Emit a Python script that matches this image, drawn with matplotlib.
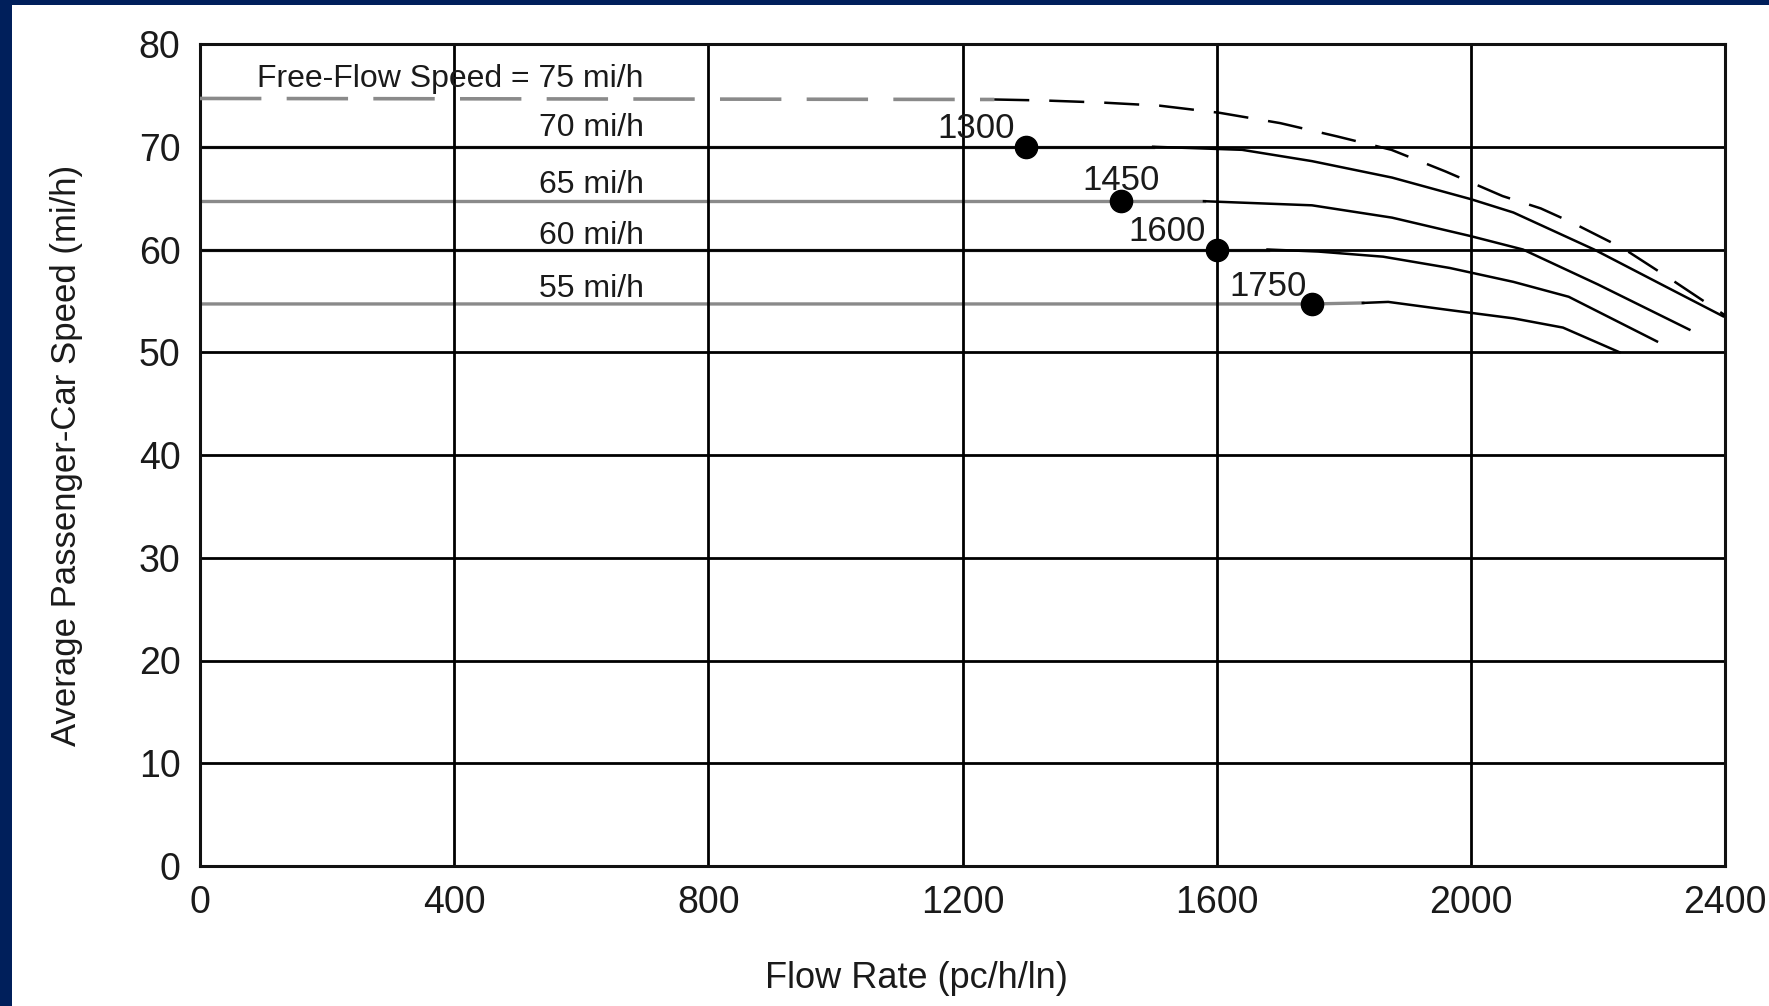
import matplotlib
matplotlib.use('Agg')
import matplotlib.pyplot as plt
from matplotlib.patches import Rectangle
import numpy as np

plt.rcParams['font.family'] = ['Liberation Sans Narrow', 'Liberation Sans', 'DejaVu Sans']

# speed-flow curves (flow pc/h/ln, speed mi/h)
ffs75_flow = [0, 1250, 1330, 1420, 1510, 1605, 1700, 1790, 1875, 1960, 2050, 2110, 2160, 2240, 2315, 2400]
ffs75_speed = [74.7, 74.6, 74.5, 74.3, 74.0, 73.3, 72.3, 71.0, 69.7, 67.6, 65.2, 64.0, 62.6, 60.1, 57.1, 53.6]

ffs70_flow = [0, 1300, 1500, 1640, 1750, 1876, 2000, 2067, 2194, 2300, 2397]
ffs70_speed = [70, 70, 70, 69.7, 68.6, 67.0, 64.9, 63.6, 60.0, 56.6, 53.5]

ffs65_flow = [0, 1450, 1580, 1750, 1876, 2000, 2082, 2200, 2344]
ffs65_speed = [64.7, 64.7, 64.7, 64.3, 63.1, 61.3, 60.0, 56.6, 52.2]

ffs60_flow = [0, 1600, 1680, 1760, 1862, 1967, 2067, 2154, 2293]
ffs60_speed = [60, 60, 60, 59.8, 59.3, 58.2, 56.85, 55.4, 51.05]

ffs55_flow = [0, 1750, 1830, 1870, 1967, 2067, 2145, 2234]
ffs55_speed = [54.7, 54.7, 54.8, 54.9, 54.1, 53.3, 52.4, 50.0]

# breakpoints
bp_flow = [1300, 1450, 1600, 1750]
bp_speed = [70, 64.7, 60, 54.7]
bp_labels = ['1300', '1450', '1600', '1750']

curve_labels = ['Free-Flow Speed = 75 mi/h', '70 mi/h', '65 mi/h', '60 mi/h', '55 mi/h']
curve_label_speed = [75.8, 71.0, 65.5, 60.5, 55.4]

x_ticks = [0, 400, 800, 1200, 1600, 2000, 2400]
y_ticks = [0, 10, 20, 30, 40, 50, 60, 70, 80]

TXT = '#1a1a1a'
GREY = '#8a8a8a'

fig = plt.figure(figsize=(17.69, 10.06), dpi=100)
fig.patch.set_facecolor('white')
# navy frame strips on left and top
fig.patches.append(Rectangle((0, 0), 12 / 1769, 1, transform=fig.transFigure,
                             facecolor='#001f5b', edgecolor='none', zorder=0))
fig.patches.append(Rectangle((0, 1 - 5 / 1006), 1, 5 / 1006, transform=fig.transFigure,
                             facecolor='#001f5b', edgecolor='none', zorder=0))

ax = fig.add_axes([200 / 1769, 1 - 866 / 1006, 1525 / 1769, 822 / 1006])
ax.set_xlim(0, 2400)
ax.set_ylim(0, 80)
ax.set_xticks(x_ticks)
ax.set_yticks(y_ticks)
ax.tick_params(length=0, labelsize=27, colors=TXT)
ax.tick_params(axis='x', pad=14)
ax.tick_params(axis='y', pad=14)
ax.grid(True, color='black', linewidth=2.0)
ax.set_axisbelow(True)
for s in ax.spines.values():
    s.set_linewidth(2.2)
    s.set_color('#111111')

# free-flow 75 dashed curve: flat part grey, falling part black
f = np.array(ffs75_flow)
v = np.array(ffs75_speed)
m = f <= 1250
ax.plot(f[m], v[m], color=GREY, lw=2.6, dashes=(17, 7), zorder=3)
ax.plot(f[f >= 1250], v[f >= 1250], color='black', lw=1.8, dashes=(14, 8), zorder=3)

# other curves: grey flat part (under the grid), black curved part
curves = [(ffs70_flow, ffs70_speed, 1500),
          (ffs65_flow, ffs65_speed, 1580),
          (ffs60_flow, ffs60_speed, 1680),
          (ffs55_flow, ffs55_speed, 1830)]
for cf, cs, split in curves:
    cf = np.array(cf)
    cs = np.array(cs)
    ax.plot(cf[cf <= split], cs[cf <= split], color=GREY, lw=2.4, zorder=0.3)
    ax.plot(cf[cf >= split], cs[cf >= split], color='black', lw=1.8, zorder=3)

ax.plot(bp_flow, bp_speed, 'o', color='black', markersize=16, zorder=5)
offsets = [(-8, 6), (0, 8), (-8, 6), (-4, 6)]
has = ['right', 'center', 'right', 'right']
for x, y, lab, off, ha in zip(bp_flow, bp_speed, bp_labels, offsets, has):
    ax.annotate(lab, (x, y), xytext=off, textcoords='offset points',
                ha=ha, va='baseline', fontsize=25, color=TXT, zorder=6)

for lab, y in zip(curve_labels, curve_label_speed):
    ax.text(698, y, lab, ha='right', va='baseline', fontsize=23, color=TXT, zorder=6)

ax.set_xlabel('Flow Rate (pc/h/ln)', fontsize=26, color=TXT)
ax.xaxis.set_label_coords(0.47, -0.115)
ax.set_ylabel('Average Passenger-Car Speed (mi/h)', fontsize=25, color=TXT)
ax.yaxis.set_label_coords(-0.077, 0.5)

fig.savefig('out.png', dpi=100)
